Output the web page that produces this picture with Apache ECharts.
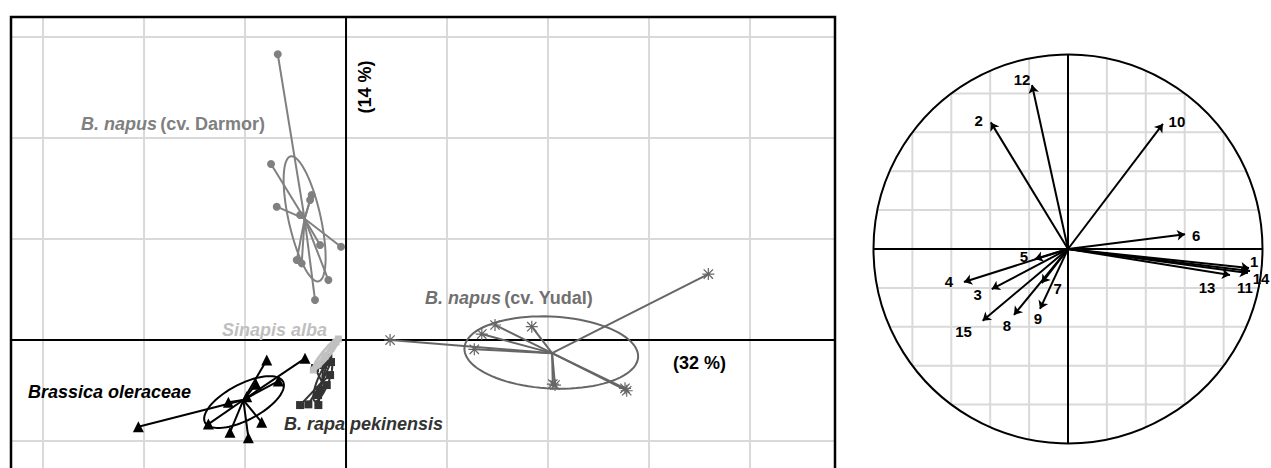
<!DOCTYPE html>
<html><head><meta charset="utf-8">
<script src="https://cdn.jsdelivr.net/npm/echarts@6/dist/echarts.min.js"></script>
<style>html,body{margin:0;padding:0;background:#fff}#c{width:1271px;height:468px}</style>
</head><body><div id="c"></div>
<script>
// ---------- Data: individuals (PCA scores, axis 1 = 32 %, axis 2 = 14 %) ----------
const darmorPoints = [[-0.676,2.829],[-0.743,1.743],[-0.340,1.436],[-0.356,1.386],[-0.686,1.320],[-0.455,1.238],[-0.257,0.941],[-0.050,0.924],[-0.488,0.792],[-0.439,0.759],[-0.175,0.594],[-0.307,0.396]];
const darmorCentroid = [-0.41, 1.20];
const darmorEllipse = [-0.41, 1.20, 0.634, 0.159, 102.6]; // cx, cy, a, b, angle(deg)

const yudalPoints = [[3.587,0.653],[1.475,0.149],[1.839,0.132],[1.344,0.059],[0.436,0.0],[1.270,-0.092],[2.047,-0.436],[2.069,-0.446],[2.762,-0.478],[2.779,-0.502]];
const yudalCentroid = [2.04, -0.13];
const yudalEllipse = [2.032, -0.124, 0.861, 0.356, -3];

const oleraceaPoints = [[-2.056,-0.858],[-0.785,-0.198],[-0.406,-0.181],[-0.891,-0.439],[-0.670,-0.406],[-1.165,-0.617],[-1.363,-0.832],[-1.149,-0.914],[-0.967,-0.967],[-0.835,-0.815],[-0.983,-0.561]];
const oleraceaCentroid = [-1.017, -0.594];
const oleraceaEllipse = [-1.010, -0.614, 0.436, 0.178, 27.7];

const rapaPoints = [[-0.455,-0.644],[-0.373,-0.637],[-0.274,-0.644],[-0.175,-0.178],[-0.149,-0.218],[-0.225,-0.248],[-0.307,-0.277],[-0.158,-0.347],[-0.191,-0.446],[-0.257,-0.495],[-0.277,-0.545]];
const rapaCentroid = [-0.238, -0.416];
const rapaEllipse = [-0.23, -0.41, 0.21, 0.055, 68];

const sinapisPoints = [[-0.076,0.010],[-0.099,-0.020],[-0.149,-0.079],[-0.208,-0.158],[-0.277,-0.238],[-0.324,-0.297]];
const sinapisCentroid = [-0.20, -0.14];
const sinapisEllipse = [-0.20, -0.14, 0.19, 0.035, 51];

const gridTicksX = [-3,-2,-1,1,2,3,4];
const gridTicksY = [-1,1,2,3];

// ---------- Data: variables (correlation circle) ----------
const varNames = ['1','2','3','4','5','6','7','8','9','10','11','12','13','14','15'];
const varX = [0.931,-0.397,-0.392,-0.535,-0.170,0.602,-0.135,-0.278,-0.144,0.488,0.925,-0.185,0.833,0.936,-0.439];
const varY = [-0.098,0.651,-0.206,-0.170,-0.051,0.076,-0.175,-0.339,-0.308,0.643,-0.123,0.843,-0.134,-0.113,-0.369];
const circleTicks = [-0.8,-0.6,-0.4,-0.2,0.2,0.4,0.6,0.8];

// ---------- Styles ----------
const F = '"Liberation Sans", Arial, Helvetica, sans-serif';
const labelOffsets = {'1':[5,-7],'2':[-12,-2],'3':[-14,5],'4':[-15,-1],'5':[-11,-2],'6':[11,1],'7':[16,5],'8':[-7,11],'9':[-2,10],'10':[14,-2],'11':[-3,15],'12':[-10,-6],'13':[-23,12],'14':[11,8],'15':[-19,11]};
const ASTER = 'path://M0 9L20 9L20 11L0 11Z M9 0L11 0L11 20L9 20Z M1.5 3L3 1.5L18.5 17L17 18.5Z M17 1.5L18.5 3L3 18.5L1.5 17Z';

const X0 = -3.327, X1 = 4.851, Y0 = -1.267, Y1 = 3.208;

function ellipseSeries(el, color, width, z) {
  return {
    type: 'custom', xAxisIndex: 0, yAxisIndex: 0, z: z, silent: true,
    data: [el],
    renderItem: function (params, api) {
      const cx = api.value(0), cy = api.value(1), a = api.value(2), b = api.value(3), th = api.value(4) * Math.PI / 180;
      const pts = [];
      for (let k = 0; k < 90; k++) {
        const t = 2 * Math.PI * k / 90;
        const ex = a * Math.cos(t), ey = b * Math.sin(t);
        pts.push(api.coord([cx + ex * Math.cos(th) - ey * Math.sin(th), cy + ex * Math.sin(th) + ey * Math.cos(th)]));
      }
      return { type: 'polygon', shape: { points: pts }, style: { fill: 'none', stroke: color, lineWidth: width } };
    }
  };
}
function starSeries(pts, c, color, width, z) {
  return {
    type: 'lines', coordinateSystem: 'cartesian2d', xAxisIndex: 0, yAxisIndex: 0, z: z, silent: true,
    data: pts.map(p => ({ coords: [c, p] })),
    lineStyle: { color: color, width: width, opacity: 1 }
  };
}
function pointSeries(pts, symbol, size, color, z) {
  return {
    type: 'scatter', xAxisIndex: 0, yAxisIndex: 0, z: z, silent: true,
    data: pts, symbol: symbol, symbolSize: size, itemStyle: { color: color, opacity: 1 }
  };
}

const series = [];
// left frame background: grid lines and zero axes
series.push({
  type: 'custom', xAxisIndex: 0, yAxisIndex: 0, z: 1, silent: true, data: [[0, 0]],
  renderItem: function (params, api) {
    const ch = [];
    gridTicksX.forEach(t => { const p1 = api.coord([t, Y0]), p2 = api.coord([t, Y1]);
      ch.push({ type: 'line', shape: { x1: p1[0], y1: p1[1], x2: p2[0], y2: p2[1] }, style: { stroke: '#d9d9d9', lineWidth: 2 } }); });
    gridTicksY.forEach(t => { const p1 = api.coord([X0, t]), p2 = api.coord([X1, t]);
      ch.push({ type: 'line', shape: { x1: p1[0], y1: p1[1], x2: p2[0], y2: p2[1] }, style: { stroke: '#d9d9d9', lineWidth: 2 } }); });
    let a = api.coord([0, Y0]), b = api.coord([0, Y1]);
    ch.push({ type: 'line', shape: { x1: a[0], y1: a[1], x2: b[0], y2: b[1] }, style: { stroke: '#000', lineWidth: 2 } });
    a = api.coord([X0, 0]); b = api.coord([X1, 0]);
    ch.push({ type: 'line', shape: { x1: a[0], y1: a[1], x2: b[0], y2: b[1] }, style: { stroke: '#000', lineWidth: 2 } });
    return { type: 'group', children: ch };
  }
});
// left frame border (left, top, right)
series.push({
  type: 'custom', xAxisIndex: 0, yAxisIndex: 0, z: 20, silent: true, data: [[0, 0]],
  renderItem: function (params, api) {
    const bl = api.coord([X0, Y0]), tl = api.coord([X0, Y1]), tr = api.coord([X1, Y1]), br = api.coord([X1, Y0]);
    return { type: 'polyline', shape: { points: [[bl[0]+1, bl[1]], [tl[0]+1, tl[1]+1], [tr[0]-1, tr[1]+1], [br[0]-1, br[1]]] }, style: { fill: 'none', stroke: '#000', lineWidth: 2.5 } };
  }
});
// groups
series.push(starSeries(oleraceaPoints, oleraceaCentroid, '#000', 2, 3));
series.push(ellipseSeries(oleraceaEllipse, '#000', 2, 3));
series.push(pointSeries(oleraceaPoints, 'triangle', 11, '#000', 4));

series.push(starSeries(rapaPoints, rapaCentroid, '#333', 2, 5));
series.push(ellipseSeries(rapaEllipse, '#333', 2, 5));
series.push(pointSeries(rapaPoints, 'rect', 8, '#333', 6));

series.push(starSeries(sinapisPoints, sinapisCentroid, '#c0c0c0', 3, 7));
series.push(ellipseSeries(sinapisEllipse, '#c0c0c0', 3, 7));
series.push(pointSeries(sinapisPoints, 'rect', 7, '#c0c0c0', 8));

series.push(starSeries(darmorPoints, darmorCentroid, '#808080', 2, 9));
series.push(ellipseSeries(darmorEllipse, '#808080', 2, 9));
series.push(pointSeries(darmorPoints, 'circle', 8, '#808080', 10));

series.push(starSeries(yudalPoints, yudalCentroid, '#666666', 2, 11));
series.push(ellipseSeries(yudalEllipse, '#666666', 2, 11));
series.push(pointSeries(yudalPoints, ASTER, 12, '#666666', 12));

// right panel: circle, clipped grid, axes
series.push({
  type: 'custom', xAxisIndex: 1, yAxisIndex: 1, z: 1, silent: true, data: [[0, 0]],
  renderItem: function (params, api) {
    const ch = [];
    circleTicks.forEach(t => {
      const h = Math.sqrt(1 - t * t);
      let p1 = api.coord([t, -h]), p2 = api.coord([t, h]);
      ch.push({ type: 'line', shape: { x1: p1[0], y1: p1[1], x2: p2[0], y2: p2[1] }, style: { stroke: '#d9d9d9', lineWidth: 2 } });
      p1 = api.coord([-h, t]); p2 = api.coord([h, t]);
      ch.push({ type: 'line', shape: { x1: p1[0], y1: p1[1], x2: p2[0], y2: p2[1] }, style: { stroke: '#d9d9d9', lineWidth: 2 } });
    });
    let a = api.coord([0, -1]), b = api.coord([0, 1]);
    ch.push({ type: 'line', shape: { x1: a[0], y1: a[1], x2: b[0], y2: b[1] }, style: { stroke: '#000', lineWidth: 2 } });
    a = api.coord([-1, 0]); b = api.coord([1, 0]);
    ch.push({ type: 'line', shape: { x1: a[0], y1: a[1], x2: b[0], y2: b[1] }, style: { stroke: '#000', lineWidth: 2 } });
    const c = api.coord([0, 0]), r = api.size([1, 0])[0];
    ch.push({ type: 'circle', shape: { cx: c[0], cy: c[1], r: r }, style: { fill: 'none', stroke: '#000', lineWidth: 2 } });
    return { type: 'group', children: ch };
  }
});
series.push({
  type: 'lines', coordinateSystem: 'cartesian2d', xAxisIndex: 1, yAxisIndex: 1, z: 5, silent: true,
  symbol: ['none', 'arrow'], symbolSize: 8,
  data: varNames.map((n, i) => ({ coords: [[0, 0], [varX[i], varY[i]]] })),
  lineStyle: { color: '#000', width: 2, opacity: 1 }
});
// variable labels (text elements placed at arrow tips)
series.push({
  type: 'custom', xAxisIndex: 1, yAxisIndex: 1, z: 6, silent: true,
  data: varNames.map((n, i) => [varX[i], varY[i], i]),
  renderItem: function (params, api) {
    const p = api.coord([api.value(0), api.value(1)]);
    const n = varNames[api.value(2)];
    const o = labelOffsets[n];
    return { type: 'text', x: p[0] + o[0], y: p[1] + o[1],
      style: { text: n, align: 'center', verticalAlign: 'middle', fontFamily: F, fontWeight: 'bold', fontSize: 15, fill: '#000' } };
  }
});

function t(x, y, text, rich, extra) {
  return Object.assign({ type: 'text', z: 30, silent: true, style: Object.assign({ x: x, y: y, text: text, rich: rich, verticalAlign: 'middle', align: 'left' }) }, extra || {});
}
function rs(color, italic) { return { fontFamily: F, fontSize: 18, fontWeight: 'bold', fontStyle: italic ? 'italic' : 'normal', fill: color, color: color }; }

const chart = echarts.init(document.getElementById('c'), null, { renderer: 'svg' });
chart.setOption({
  animation: false,
  backgroundColor: '#fff',
  grid: [
    { left: 10, top: 16, width: 826, height: 452, containLabel: false },
    { left: 873.5, top: 54.5, width: 389, height: 389, containLabel: false }
  ],
  xAxis: [
    { type: 'value', gridIndex: 0, min: X0, max: X1, show: false, splitLine: { show: false } },
    { type: 'value', gridIndex: 1, min: -1, max: 1, show: false, splitLine: { show: false } }
  ],
  yAxis: [
    { type: 'value', gridIndex: 0, min: Y0, max: Y1, show: false, splitLine: { show: false } },
    { type: 'value', gridIndex: 1, min: -1, max: 1, show: false, splitLine: { show: false } }
  ],
  series: series,
  graphic: [
    t(81, 124, '{i|B. napus} {n|(cv. Darmor)}', { i: rs('#808080', true), n: rs('#808080', false) }),
    t(425, 298, '{i|B. napus} {n|(cv. Yudal)}', { i: rs('#707070', true), n: rs('#707070', false) }),
    t(222, 330, '{i|Sinapis alba}', { i: rs('#bfbfbf', true) }),
    t(28, 392, '{i|Brassica oleraceae}', { i: rs('#000', true) }),
    t(284, 424, '{i|B. rapa pekinensis}', { i: rs('#333', true) }),
    t(673, 363, '{n|(32 %)}', { n: rs('#000', false) }),
    { type: 'text', z: 30, silent: true, x: 365, y: 87, rotation: Math.PI / 2,
      style: { x: 0, y: 0, text: '(14 %)', align: 'center', verticalAlign: 'middle', fontFamily: F, fontSize: 18, fontWeight: 'bold', fill: '#000' } }
  ]
});
</script>
</body></html>
